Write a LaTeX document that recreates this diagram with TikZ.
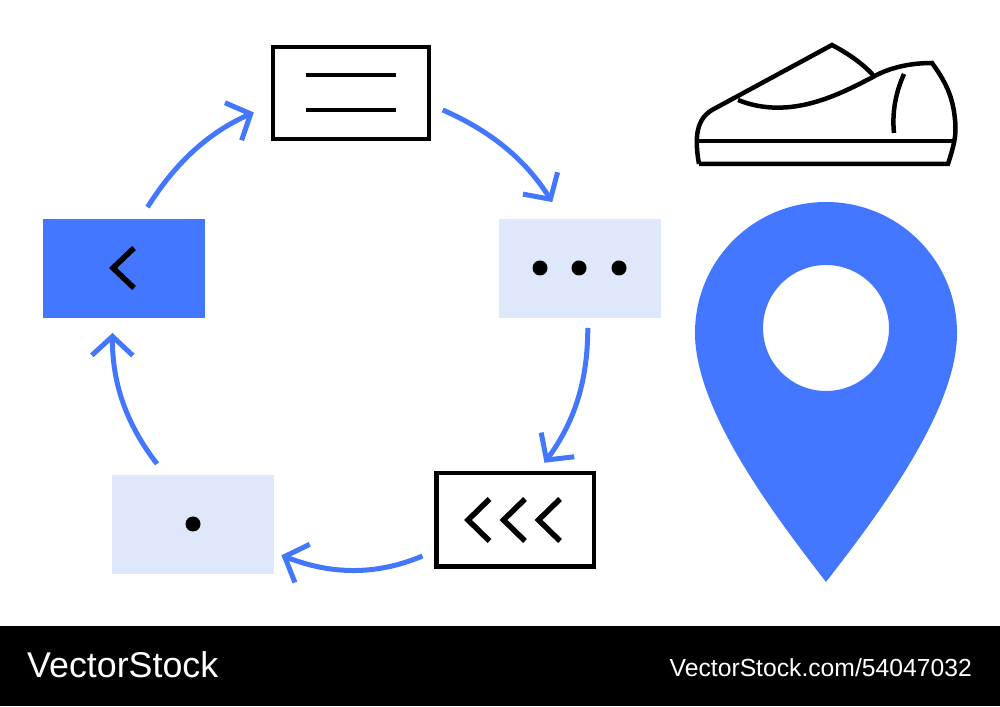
\documentclass[tikz,border=0pt]{standalone}
\usepackage{fontspec}
\setmainfont{Liberation Sans}
\usetikzlibrary{arrows.meta}
\definecolor{pinblue}{HTML}{4477FF}
\definecolor{paleblue}{HTML}{DEE8FA}
\tikzset{x=1pt, y=1pt}
\tikzset{card/.style={rectangle, inner sep=0pt, outer sep=0pt, minimum width=162pt, minimum height=99pt}}
\tikzset{framed/.style={card, draw=black, line width=4.5pt, fill=white}}
\tikzset{flow/.style={draw=pinblue, line width=5pt, -{Straight Barb[length=19pt,width=41pt]}}}
\tikzset{ink/.style={draw=black, line width=4.5pt}}
\tikzset{chevron/.style={draw=black, line width=5.5pt}}
\tikzset{pip/.style={circle, fill=black, inner sep=0pt, minimum size=15pt}}
\tikzset{credit/.style={text=white, inner sep=0pt}}

\begin{document}
\begin{tikzpicture}
    \useasboundingbox (0,0) rectangle (1000,706);

    \node[framed, minimum width=156pt, minimum height=92pt] (note) at (351,613) {};
    \node[card, fill=paleblue] (dots) at (580,437.5) {};
    \node[framed, minimum width=157.5pt, minimum height=93.5pt] (chev) at (515,186) {};
    \node[card, fill=paleblue] (spot) at (193,181.5) {};
    \node[card, fill=pinblue] (back) at (124,437.5) {};

    % ring
    \draw[flow, shorten <=14pt, shorten >=21pt] (back.72) to[bend left=17] (note.188);
    \draw[flow, shorten <=15pt, shorten >=20pt] (note.-8.5) to[bend left=17] (dots.109);
    \draw[flow, shorten <=10pt, shorten >=13pt] (dots.-81) to[bend left=18] (chev.65);
    \draw[flow, shorten <=15pt, shorten >=8pt] (chev.201) to[bend left=22] (spot.-19);
    \draw[flow, shorten <=14pt, shorten >=15pt] (spot.119.5) to[bend left=19] (back.-103.6);

    % glyphs in the cards
    \draw[ink, line width=4pt] (306,631) -- (396,631);
    \draw[ink, line width=4pt] (306,596) -- (396,596);
    \foreach \x/\n in {540/a, 579/b, 619/c}
      \node[pip] (pip\n) at (\x,438) {};
    \node[pip] (pipd) at (193,182) {};
    \draw[chevron] (134,458) -- (113,438) -- (134,418);
    \foreach \x in {489.5,525,560}
      \draw[chevron] (\x,207) -- (\x-21.5,186) -- (\x,165);

    % shoe
    \draw[ink] (699,542) -- (948,542)
      .. controls (953,558) and (957,570) .. (955,586)
      .. controls (953,610) and (945,625) .. (932,643)
      .. controls (905,643) and (885,636) .. (873,629)
      .. controls (840,612) and (790,585) .. (738,606);
    \draw[ink] (873,631) .. controls (860,645) and (845,654) .. (832,661)
      -- (712,596) .. controls (697,587) and (694,570) .. (699,542);
    \draw[ink] (697,565) -- (953,565);
    \draw[ink] (904,632) .. controls (895,612) and (892,592) .. (894,573);

    % pin
    \fill[pinblue, even odd rule] (826,124)
      .. controls (775,190) and (695,295) .. (695,373)
      .. controls (695,446) and (754,504) .. (826,504)
      .. controls (898,504) and (957,446) .. (957,373)
      .. controls (957,295) and (877,190) .. (826,124) -- cycle
      (826,378) circle (63);

    % band
    \node[rectangle, fill=black, inner sep=0pt, minimum width=1000pt, minimum height=80pt, anchor=south west] (band) at (0,0) {};
    \node[credit, anchor=base west, font=\fontsize{35.8}{40}\selectfont] (brand) at (27,28) {VectorStock};
    \node[credit, anchor=base east, font=\fontsize{24.7}{30}\selectfont] (ref) at (972,29) {VectorStock.com/54047032};

  \end{tikzpicture}
\end{document}
